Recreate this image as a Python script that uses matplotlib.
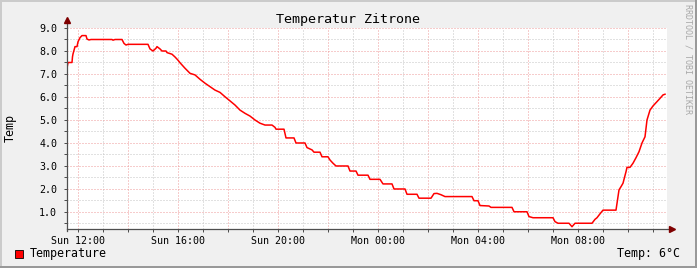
import matplotlib.pyplot as plt
from matplotlib.patches import Rectangle

# hours relative to Sun 12:00, temperature in degC
hours = [-0.44, -0.40, -0.24, -0.22, -0.20, -0.12, -0.04, 0.00, 0.08, 0.16,
         0.32, 0.36, 0.44, 0.52, 1.36, 1.40, 1.48, 1.76, 1.84, 1.92,
         2.00, 2.80, 2.88, 3.00, 3.12, 3.16, 3.28, 3.36, 3.52, 3.56,
         3.76, 3.88, 4.00, 4.08, 4.28, 4.48, 4.68, 4.88, 5.08, 5.28,
         5.48, 5.68, 5.88, 6.08, 6.28, 6.48, 6.68, 6.88, 7.08, 7.28,
         7.48, 7.76, 7.88, 7.92, 8.24, 8.32, 8.64, 8.72, 9.08, 9.16,
         9.36, 9.44, 9.68, 9.76, 10.00, 10.08, 10.20, 10.32, 10.80, 10.88,
         11.12, 11.20, 11.60, 11.68, 12.08, 12.20, 12.56, 12.64, 13.08, 13.16,
         13.56, 13.64, 14.12, 14.24, 14.36, 14.52, 14.68, 15.76, 15.84, 16.00,
         16.08, 16.44, 16.52, 17.36, 17.44, 17.96, 18.04, 18.20, 19.00, 19.08,
         19.20, 19.64, 19.76, 19.88, 20.56, 20.68, 20.76, 20.88, 21.00, 21.52,
         21.56, 21.64, 21.72, 21.80, 21.92, 21.96, 22.08, 22.20, 22.32, 22.44,
         22.56, 22.68, 22.76, 22.88, 23.00, 23.12, 23.28, 23.40, 23.48]
temps = [7.26, 7.50, 7.50, 7.75, 7.87, 8.19, 8.19, 8.40, 8.58, 8.67,
         8.67, 8.52, 8.48, 8.50, 8.50, 8.47, 8.50, 8.50, 8.33, 8.26,
         8.29, 8.29, 8.09, 8.00, 8.12, 8.19, 8.09, 8.00, 8.00, 7.93,
         7.86, 7.74, 7.60, 7.49, 7.25, 7.03, 6.96, 6.77, 6.60, 6.45,
         6.30, 6.20, 6.01, 5.83, 5.65, 5.43, 5.29, 5.17, 5.00, 4.86,
         4.78, 4.78, 4.68, 4.60, 4.60, 4.22, 4.22, 4.00, 4.00, 3.80,
         3.70, 3.60, 3.60, 3.40, 3.40, 3.26, 3.12, 3.00, 3.00, 2.78,
         2.78, 2.60, 2.60, 2.42, 2.42, 2.22, 2.22, 2.00, 2.00, 1.77,
         1.77, 1.60, 1.60, 1.80, 1.81, 1.75, 1.67, 1.67, 1.49, 1.49,
         1.28, 1.26, 1.20, 1.20, 1.01, 1.01, 0.80, 0.75, 0.75, 0.58,
         0.51, 0.51, 0.36, 0.51, 0.51, 0.68, 0.75, 0.92, 1.08, 1.08,
         1.38, 1.96, 2.10, 2.25, 2.75, 2.94, 2.94, 3.12, 3.36, 3.62,
         4.00, 4.27, 5.00, 5.43, 5.61, 5.75, 5.94, 6.09, 6.12]

x_label_hours = [0, 4, 8, 12, 16, 20]
x_labels = ["Sun 12:00", "Sun 16:00", "Sun 20:00", "Mon 00:00", "Mon 04:00", "Mon 08:00"]
y_ticks = [1.0, 2.0, 3.0, 4.0, 5.0, 6.0, 7.0, 8.0, 9.0]

W, H = 697, 268
mono = "DejaVu Sans Mono"
plt.rcParams["font.family"] = mono

fig = plt.figure(figsize=(W / 100, H / 100), dpi=100, facecolor="#F0F0F0")
ax = fig.add_axes([67 / W, 39 / H, 600 / W, 201 / H])
ax.set_facecolor("white")

ax.plot(hours, temps, color="#FF0000", lw=1.1, zorder=3)

ax.set_xlim(-0.44, 23.56)
ax.set_ylim(0.26, 9.0)

major_x = list(range(0, 24, 2))
ax.set_xticks(major_x)
ax.set_xticklabels([x_labels[x_label_hours.index(h)] if h in x_label_hours else "" for h in major_x])
ax.set_xticks(list(range(0, 24)), minor=True)
ax.set_yticks(y_ticks)
ax.set_yticklabels(["%.1f" % v for v in y_ticks])
ax.set_yticks([v + 0.5 for v in range(0, 9)], minor=True)

dots = (0, (1, 2))
ax.grid(which="minor", color="#C4C4C4", ls=dots, lw=0.72)
ax.grid(which="major", color="#EE9A9A", ls=dots, lw=0.72)
ax.set_axisbelow(True)

ax.tick_params(which="both", direction="out", length=2, width=0.72, color="#4F4F4F",
               labelsize=7.2, labelcolor="black")
ax.tick_params(axis="x", pad=3)
ax.tick_params(axis="y", pad=5)

for s in ax.spines.values():
    s.set_visible(False)

# axes with arrows
ax.plot([0, 0], [-0.01, 1 + 8 / 201], color="#4F4F4F", lw=0.9, transform=ax.transAxes, clip_on=False, zorder=4)
ax.plot([0, 1 + 4 / 600], [0, 0], color="#4F4F4F", lw=0.9, transform=ax.transAxes, clip_on=False, zorder=4)
ax.plot([0], [1 + 8 / 201], marker="^", ms=4, color="#7F0000", transform=ax.transAxes, clip_on=False, zorder=5)
ax.plot([1 + 5 / 600], [0], marker=">", ms=4, color="#7F0000", transform=ax.transAxes, clip_on=False, zorder=5)

# texts
fig.text(0.5, 1 - 19 / H, "Temperatur Zitrone", ha="center", va="center", fontsize=9.6)
fig.text(10 / W, 1 - 128 / H, "Temp", rotation=90, ha="center", va="center", fontsize=8.4)
fig.text(688 / W, 1 - 4 / H, "RRDTOOL / TOBI OETIKER", rotation=270, ha="center", va="top",
         fontsize=6, color="#A8A8A8")

fig.patches.append(Rectangle((15 / W, 1 - 258 / H), 8 / W, 8 / H, facecolor="#FF0000",
                             edgecolor="black", lw=0.6, transform=fig.transFigure))
fig.text(30 / W, 1 - 254 / H, "Temperature", ha="left", va="center", fontsize=8.4)
fig.text(680 / W, 1 - 254 / H, "Temp: 6°C", ha="right", va="center", fontsize=8.4)

# bevelled border
fig.patches.append(Rectangle((0, 1 - 2 / H), 1, 2 / H, facecolor="#CBCBCB", lw=0, transform=fig.transFigure))
fig.patches.append(Rectangle((0, 0), 2 / W, 1, facecolor="#CBCBCB", lw=0, transform=fig.transFigure))
fig.patches.append(Rectangle((0, 0), 1, 2 / H, facecolor="#999999", lw=0, transform=fig.transFigure))
fig.patches.append(Rectangle((1 - 2 / W, 0), 2 / W, 1, facecolor="#999999", lw=0, transform=fig.transFigure))

fig.savefig("out.png", dpi=100, facecolor=fig.get_facecolor())
